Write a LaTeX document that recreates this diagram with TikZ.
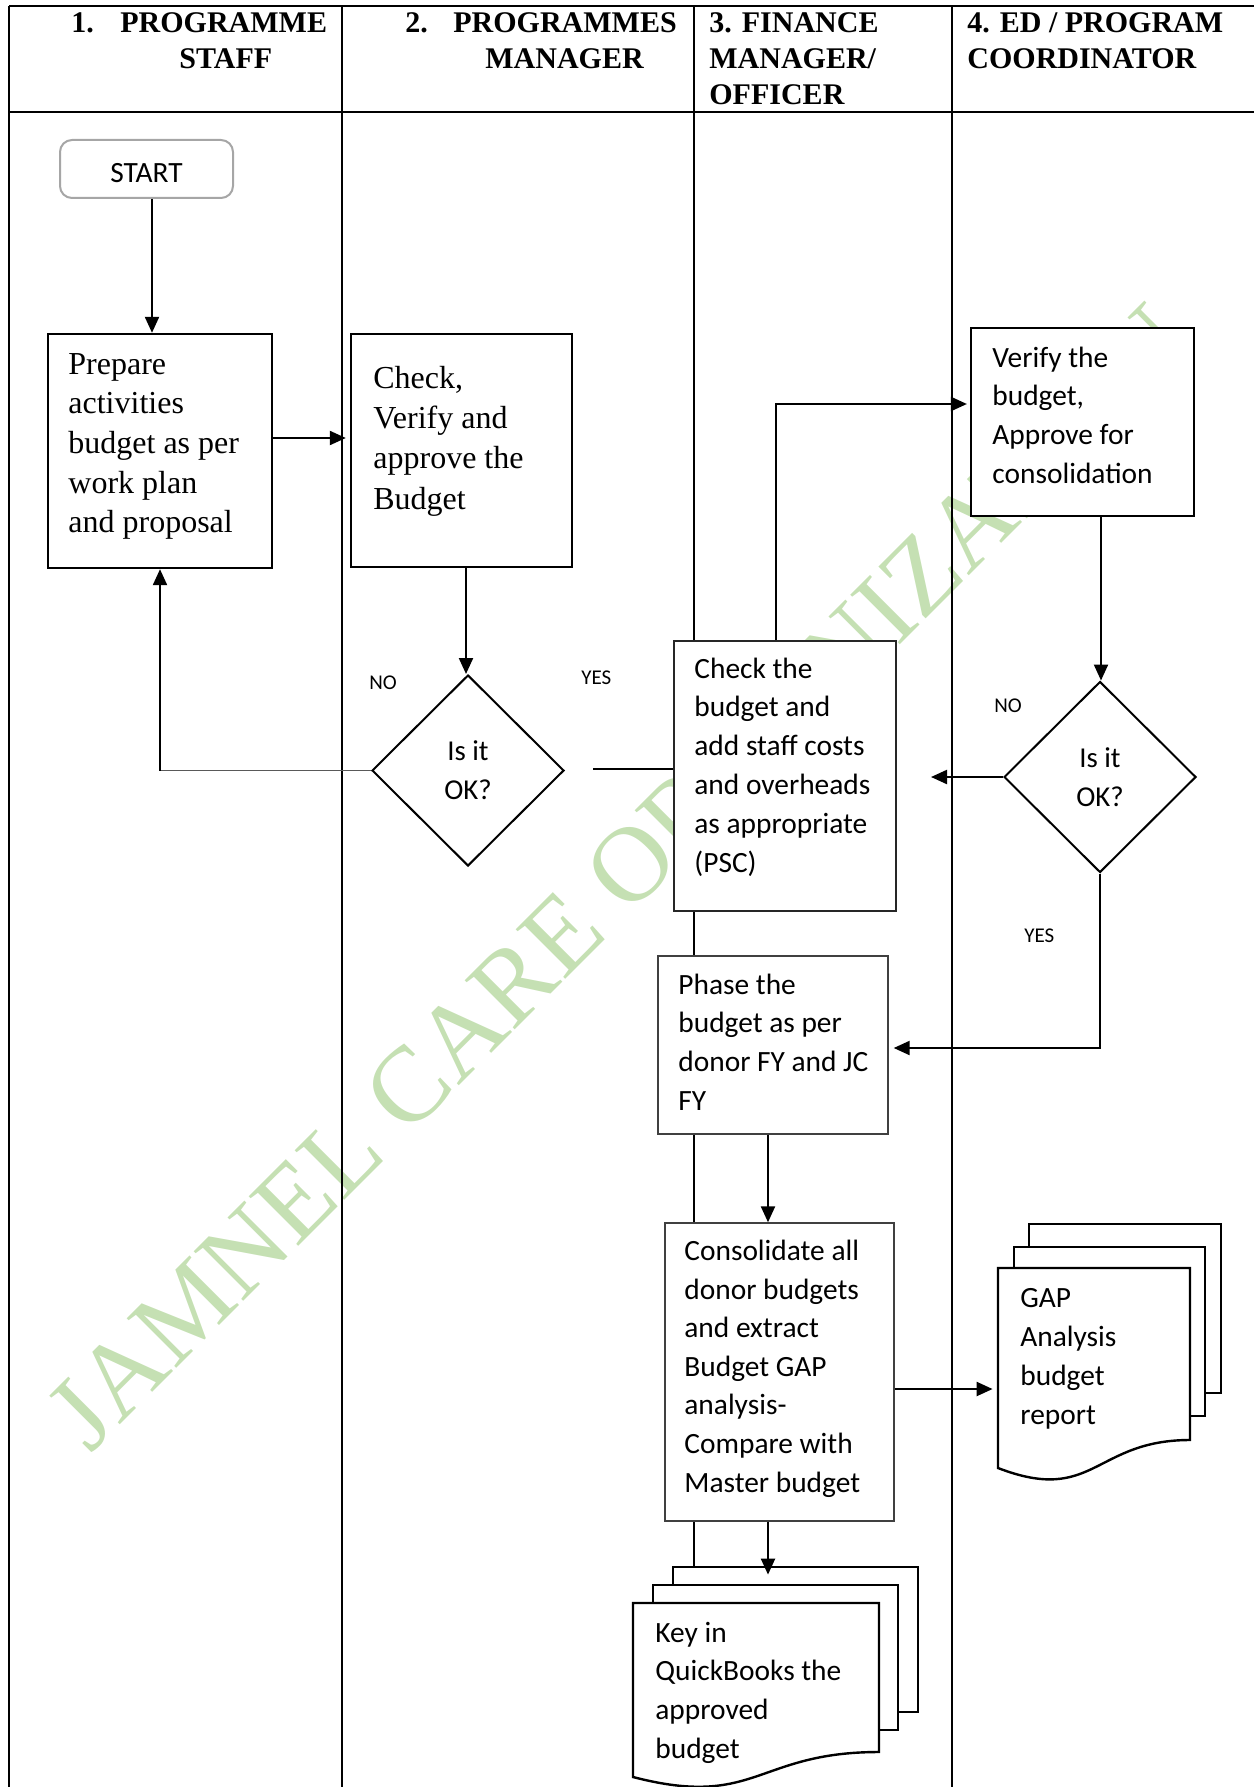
\documentclass[tikz,border=0pt]{standalone}
\usepackage{fontspec}
\setmainfont{Liberation Serif}
\newfontfamily\calibfont{Carlito}
\usetikzlibrary{shapes.geometric,arrows.meta,fit}
\definecolor{wmgreen}{HTML}{C5E0B3}
\definecolor{startgray}{HTML}{A6A6A6}
\definecolor{lightrule}{HTML}{404040}
% left-aligned stack of lines whose baseline is the first line's baseline
\newcommand{\lns}[1]{\vtop{\halign{##\hfil\cr#1\crcr}}}
\begin{document}
\begin{tikzpicture}[x=0.5pt,y=-0.5pt,
  rule/.style={line width=1.1pt},
  boxbase/.style={fill=white, inner sep=0pt},
  heavybox/.style={boxbase, draw=black, line width=1.2pt},
  midbox/.style={boxbase, draw=black!85, line width=0.9pt},
  lightbox/.style={boxbase, draw=lightrule, line width=0.7pt},
  termbox/.style={boxbase, draw=startgray, line width=1pt, rounded corners=6pt},
  sheet/.style={draw=black, fill=white, line width=1.2pt},
  decision/.style={diamond, draw, fill=white, line width=1pt, inner sep=0pt,
    minimum width=96pt, minimum height=95.5pt, align=center,
    font=\calibfont\fontsize{14.4}{19.5}\selectfont},
  head/.style={anchor=base west, inner sep=0pt, font=\bfseries\fontsize{15}{18}\selectfont},
  romantext/.style={anchor=base west, inner sep=0pt, font=\fontsize{16}{19.85}\selectfont},
  sanstext/.style={anchor=base west, inner sep=0pt, font=\calibfont\fontsize{14.7}{19.4}\selectfont},
  tag/.style={anchor=base west, inner sep=0pt, font=\calibfont\fontsize{10.5}{12}\selectfont},
  arr/.style={line width=1.1pt, -{Triangle[length=8pt,width=7pt]}},
  link/.style={line width=1.1pt},
  watermark/.style={anchor=base, rotate=45, inner sep=0pt, text=wmgreen,
    font=\fontsize{53.5}{53.5}\selectfont}
]
\useasboundingbox (0,0) rectangle (1254,1787);

% background watermark
\node[watermark] (wmark) at (643,902) {JAMNEL CARE ORGANIZATION};

% swimlane grid
\draw[rule] (9,6) -- (1254,6);
\draw[rule] (9,112) -- (1254,112);
\foreach \x in {9,342,694,952} \draw[rule] (\x,6) -- (\x,1787);

% lane headings
\node[head] (h1a) at (71,33) {\makebox[24.5pt][l]{1.}PROGRAMME};
\node[head] (h1b) at (179,69) {STAFF};
\node[head] (h2a) at (405,33) {\makebox[24pt][l]{2.}PROGRAMMES};
\node[head] (h2b) at (485,69) {MANAGER};
\node[head] (h3a) at (709,33) {3. FINANCE};
\node[head] (h3b) at (709,69) {MANAGER/};
\node[head] (h3c) at (709,104.5) {OFFICER};
\node[head] (h4a) at (967,33) {4. ED / PROGRAM};
\node[head] (h4b) at (967,69) {COORDINATOR};

% terminator
\node[termbox, fit={(60,140) (233,198)}] (start) {};
\node[inner sep=0pt, font=\calibfont\fontsize{14.7}{18}\selectfont] (starttext) at (146.5,173) {START};

% process boxes
\node[heavybox, fit={(48,334) (272,568)}] (box1) {};
\node[romantext] (t1) at (68,374) {\lns{Prepare\cr activities\cr budget as per\cr work plan\cr and proposal}};

\node[heavybox, fit={(351,334) (572,567)}] (box2) {};
\node[romantext, font=\fontsize{16}{20.2}\selectfont] (t2) at (373,388) {\lns{Check,\cr Verify and\cr approve the\cr Budget}};

\node[midbox, fit={(674,641) (896,911)}] (box3) {};
\node[sanstext] (t3) at (694,678) {\lns{Check the\cr budget and\cr add staff costs\cr and overheads\cr as appropriate\cr (PSC)}};

\node[heavybox, line width=1.1pt, fit={(971,328) (1194,516)}] (box4) {};
\node[sanstext] (t4) at (992,367) {\lns{Verify the\cr budget,\cr Approve for\cr consolidation}};

\node[lightbox, fit={(658,956) (888,1134)}] (box5) {};
\node[sanstext] (t5) at (678,994) {\lns{Phase the\cr budget as per\cr donor FY and JC\cr FY}};

\node[lightbox, fit={(665,1223) (894,1521)}] (box6) {};
\node[sanstext, font=\calibfont\fontsize{14.7}{19.3}\selectfont] (t6) at (684,1260.5) {\lns{Consolidate all\cr donor budgets\cr and extract\cr Budget GAP\cr analysis-\cr Compare with\cr Master budget}};

% decisions
\node[decision] (dia1) at (468,770.5) {Is it\\OK?};
\node[decision] (dia2) at (1100,777) {Is it\\OK?};

% branch labels
\node[tag] (no1) at (369,689) {NO};
\node[tag] (yes1) at (581,684) {YES};
\node[tag] (no2) at (994,712) {NO};
\node[tag] (yes2) at (1024,942) {YES};

% multi-document: gap analysis report
\draw[sheet] (1029,1224) rectangle (1221,1393);
\draw[sheet] (1014,1247) rectangle (1205,1416);
\draw[sheet] (998,1268) -- (1190,1268) -- (1190,1440)
  .. controls (1094,1440) and (1094,1505) .. (998,1468) -- cycle;
\node[inner sep=0pt, fit={(998,1224) (1221,1468)}] (gapdoc) {};
\node[sanstext, font=\calibfont\fontsize{14.7}{19.5}\selectfont] (gaptext) at (1020,1307) {\lns{GAP\cr Analysis\cr budget\cr report}};

% multi-document: QuickBooks entry
\draw[sheet] (673,1567) rectangle (918,1712);
\draw[sheet] (653,1585) rectangle (898,1730);
\draw[sheet] (633,1603) -- (879,1603) -- (879,1752)
  .. controls (756,1752) and (756,1809) .. (633,1777) -- cycle;
\node[inner sep=0pt, fit={(633,1567) (918,1777)}] (qbdoc) {};
\node[sanstext, font=\calibfont\fontsize{14.7}{19.35}\selectfont] (qbtext) at (655,1642) {\lns{Key in\cr QuickBooks the\cr approved\cr budget}};

% helper coordinates for connector routing
\coordinate (sx) at (152,0);
\coordinate (r12) at (0,438);
\coordinate (c2d) at (466,0);
\coordinate (y1) at (593,769);
\coordinate (c34) at (776,404);
\coordinate (c4d) at (1101,0);
\coordinate (n2) at (931,777);
\coordinate (c25) at (0,1048);
\coordinate (c56) at (768,0);
\coordinate (g1) at (0,1389);

% connectors
\draw[arr] (start.south -| sx) -- (box1.north -| sx);
\draw[arr, shorten >=2pt] (box1.east |- r12) -- (box2.west |- r12);
\draw[arr] (box2.south -| c2d) -- (dia1.north -| c2d);
\draw[line width=0.8pt, draw=black!65] (dia1.west) -- (dia1.west -| box1.south);
\draw[arr] (dia1.west -| box1.south) -- (box1.south);
\draw[link] (y1) -- (y1 -| box3.west);
\draw[arr, shorten >=1.5pt] (box3.north -| c34) |- (box4.west |- c34);
\draw[arr] (box4.south -| c4d) -- (dia2.north -| c4d);
\draw[arr] (dia2.west) -- (n2);
\draw[arr, shorten >=2.5pt] (dia2.south) |- (box5.east |- c25);
\draw[arr] (box5.south -| c56) -- (box6.north -| c56);
\draw[arr, shorten >=2.5pt] (box6.east |- g1) -- (gapdoc.west |- g1);
\draw[arr, shorten >=-4pt] (box6.south -| c56) -- (qbdoc.north -| c56);
\end{tikzpicture}
\end{document}
